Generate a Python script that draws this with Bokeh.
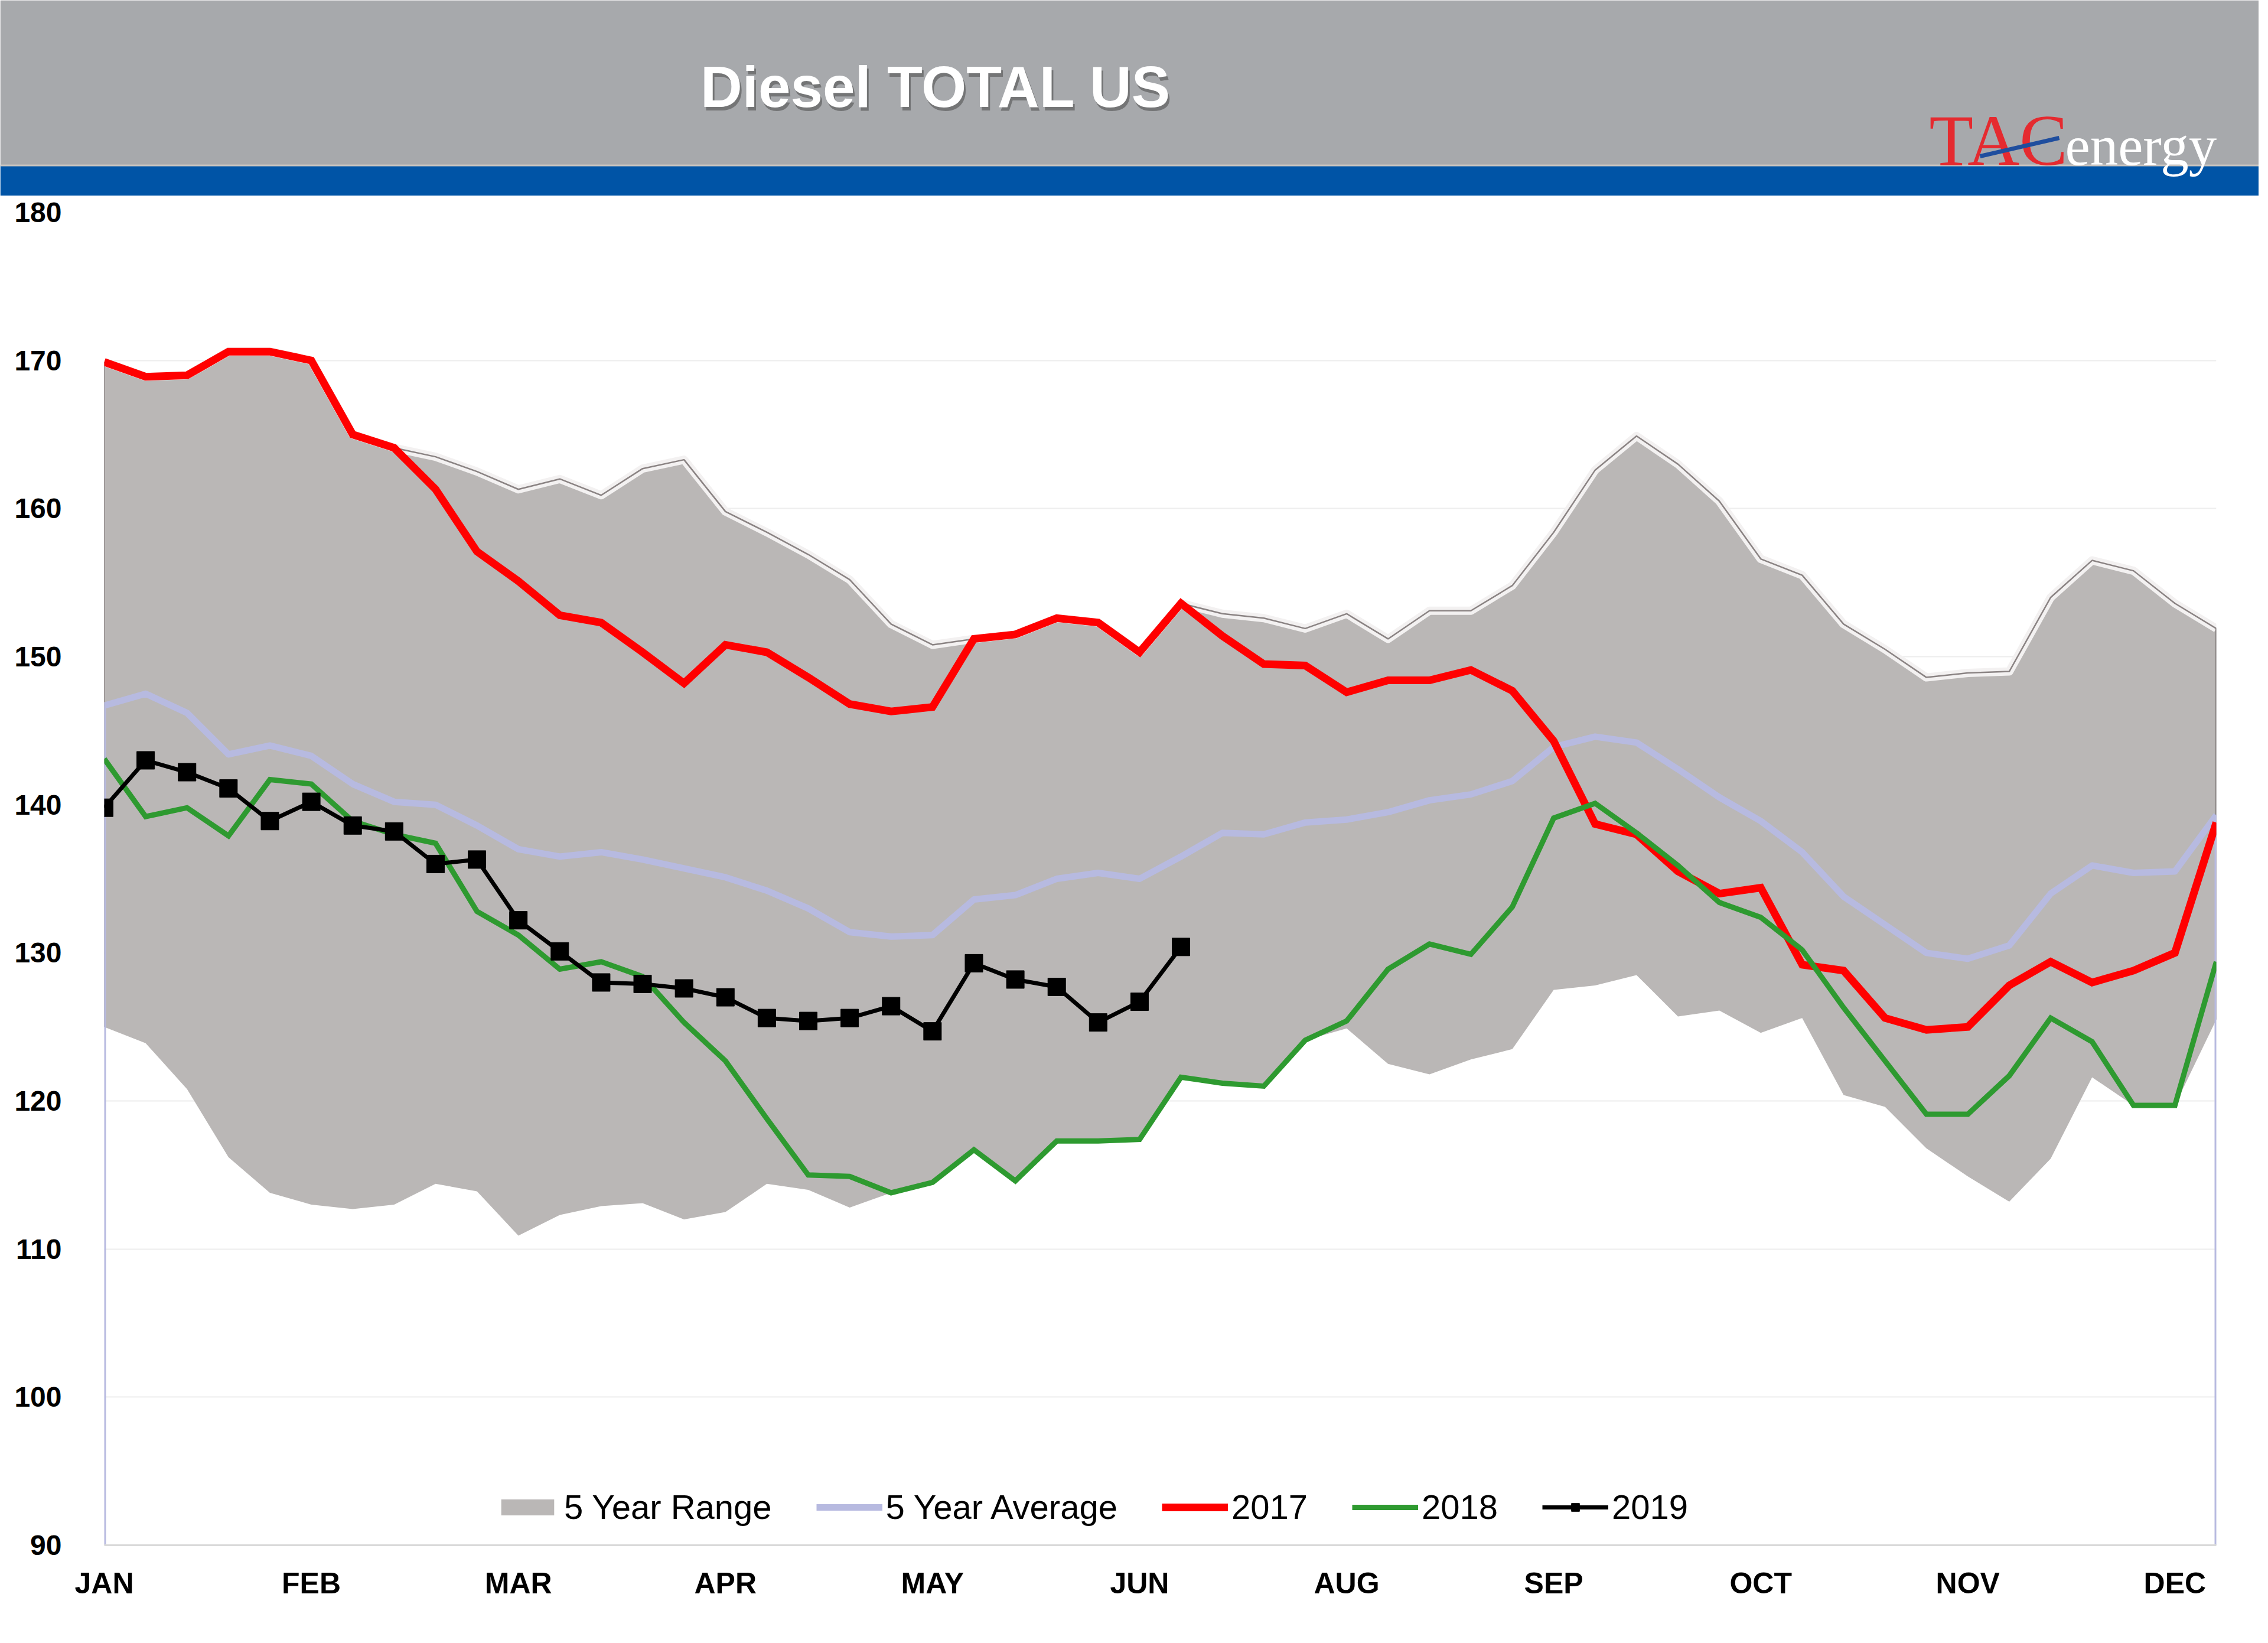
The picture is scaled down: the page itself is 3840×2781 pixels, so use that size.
from bokeh.plotting import figure
from bokeh.models import Range1d, FixedTicker, Legend, LegendItem
from bokeh.layouts import column
from bokeh.embed import file_html
from bokeh.resources import INLINE
from bokeh.core.properties import value

# ---------------- data ----------------
title = "Diesel TOTAL US"
months = ["JAN", "FEB", "MAR", "APR", "MAY", "JUN", "AUG", "SEP", "OCT", "NOV", "DEC"]
month_weeks = [0, 5, 10, 15, 20, 25, 30, 35, 40, 45, 50]
y_ticks = [90, 100, 110, 120, 130, 140, 150, 160, 170, 180]
weeks = list(range(52))

range_max = [169.9, 168.9, 169.0, 170.6, 170.6, 170.0, 165.0, 164.1, 163.5, 162.5,
             161.3, 162.0, 160.9, 162.7, 163.3, 159.8, 158.4, 156.9, 155.2, 152.2,
             150.8, 151.2, 151.5, 152.6, 152.3, 150.3, 153.6, 152.9, 152.6, 151.9,
             152.9, 151.2, 153.1, 153.1, 154.8, 158.4, 162.6, 164.9, 163.0, 160.5,
             156.6, 155.5, 152.2, 150.5, 148.6, 148.9, 149.0, 154.0, 156.5, 155.8,
             153.6, 151.9]
range_min = [125.0, 123.9, 120.8, 116.2, 113.8, 113.0, 112.7, 113.0, 114.4, 113.9,
             110.9, 112.3, 112.9, 113.1, 112.0, 112.5, 114.4, 114.0, 112.8, 113.8,
             114.5, 116.7, 114.6, 117.3, 117.3, 117.4, 121.6, 121.2, 121.0, 124.1,
             124.9, 122.5, 121.8, 122.8, 123.5, 127.5, 127.8, 128.5, 125.7, 126.1,
             124.6, 125.6, 120.4, 119.6, 116.8, 114.9, 113.2, 116.1, 121.6, 119.7,
             119.7, 125.5]
avg5 = [146.7, 147.5, 146.2, 143.4, 144.0, 143.3, 141.4, 140.2, 140.0, 138.6,
        137.0, 136.5, 136.8, 136.3, 135.7, 135.1, 134.2, 133.0, 131.4, 131.1,
        131.2, 133.6, 133.9, 135.0, 135.4, 135.0, 136.5, 138.1, 138.0, 138.8,
        139.0, 139.5, 140.3, 140.7, 141.6, 143.9, 144.6, 144.2, 142.4, 140.5,
        138.9, 136.8, 133.8, 131.9, 130.0, 129.6, 130.5, 134.0, 135.9, 135.4,
        135.5, 139.3]
y2017 = [169.9, 168.9, 169.0, 170.6, 170.6, 170.0, 165.0, 164.1, 161.3, 157.1,
         155.1, 152.8, 152.3, 150.3, 148.2, 150.8, 150.3, 148.6, 146.8, 146.3,
         146.6, 151.2, 151.5, 152.6, 152.3, 150.3, 153.6, 151.4, 149.5, 149.4,
         147.6, 148.4, 148.4, 149.1, 147.7, 144.3, 138.7, 138.0, 135.5, 134.0,
         134.4, 129.2, 128.8, 125.6, 124.8, 125.0, 127.8, 129.4, 128.0, 128.8,
         130.0, 138.8]
y2018 = [143.1, 139.2, 139.8, 137.9, 141.7, 141.4, 138.9, 138.0, 137.4, 132.8,
         131.2, 128.9, 129.4, 128.4, 125.3, 122.7, 118.8, 115.0, 114.9, 113.8,
         114.5, 116.7, 114.6, 117.3, 117.3, 117.4, 121.6, 121.2, 121.0, 124.1,
         125.4, 128.9, 130.6, 129.9, 133.1, 139.1, 140.1, 138.1, 135.9, 133.4,
         132.4, 130.2, 126.3, 122.7, 119.1, 119.1, 121.7, 125.6, 124.0, 119.7,
         119.7, 129.4]
y2019 = [139.8, 143.0, 142.2, 141.1, 138.9, 140.2, 138.6, 138.2, 136.0, 136.3,
         132.2, 130.1, 128.0, 127.9, 127.6, 127.0, 125.6, 125.4, 125.6, 126.4,
         124.7, 129.3, 128.2, 127.7, 125.3, 126.7, 130.4]
weeks2019 = weeks[:len(y2019)]

# ---------------- sizes ----------------
W = 3824
HEAD_H = 331
MAIN_H = 2765 - HEAD_H
BAND = 52
FONT_NAME = "Liberation Sans"
FONT = value(FONT_NAME)

# ---------------- header ----------------
head = figure(width=W, height=HEAD_H, x_range=Range1d(0, W), y_range=Range1d(0, HEAD_H),
              toolbar_location=None, output_backend="svg",
              x_axis_location=None, y_axis_location=None, min_border=0)
head.frame_align = False
head.grid.visible = False
head.outline_line_color = None
head.background_fill_color = "white"
head.quad(left=[0], right=[W], bottom=[BAND], top=[HEAD_H], fill_color="#A7A9AC", line_color=None)
head.quad(left=[0], right=[W], bottom=[0], top=[BAND], fill_color="#0054A6", line_color=None)
head.quad(left=[0], right=[W], bottom=[BAND - 2], top=[BAND + 1], fill_color="#C8C3BF", line_color=None)
# title with shadow
head.text(x=[1587], y=[179], text=[title], text_color="#4A4A4A", text_alpha=0.55,
          text_font=FONT, text_font_style="bold", text_font_size="98px",
          text_align="center", text_baseline="middle")
head.text(x=[1584], y=[185], text=[title], text_color="white",
          text_font=FONT, text_font_style="bold", text_font_size="98px",
          text_align="center", text_baseline="middle")
# logo
head.text(x=[3266], y=[94], text=["TAC"], text_color="#E52A2F",
          text_font=value("Liberation Serif"), text_font_size="122px",
          text_align="left", text_baseline="middle")
head.text(x=[3496], y=[85], text=["energy"], text_color="white",
          text_font=value("Liberation Serif"), text_font_size="95px",
          text_align="left", text_baseline="middle")
head.line(x=[3352, 3486], y=[67, 98], line_color="#1F4E9E", line_width=7)

# ---------------- main chart ----------------
p = figure(width=W, height=MAIN_H, x_range=Range1d(0, 51), y_range=Range1d(90, 180),
           toolbar_location=None, output_backend="svg",
           min_border_left=176, min_border_right=72, min_border_top=28, min_border_bottom=150)
p.frame_align = False
p.outline_line_color = None
p.background_fill_color = "white"
p.xgrid.visible = False
p.ygrid.ticker = FixedTicker(ticks=y_ticks)
p.ygrid.grid_line_color = "#EDEDED"
p.ygrid.grid_line_width = 2

rng = p.varea(x=weeks, y1=range_min, y2=range_max, fill_color="#BAB7B6")
p.line(weeks, range_max, line_color="#F3F1F1", line_width=14, line_join="round")
p.line(weeks, range_max, line_color="#8A8383", line_width=2.5)
p.segment(x0=[weeks[0], weeks[-1]], x1=[weeks[0], weeks[-1]],
          y0=[range_min[0], range_min[-1]], y1=[range_max[0], range_max[-1]],
          line_color="#7F7878", line_width=3)

avg_r = p.line(weeks, avg5, line_color="#B7BAE0", line_width=11, line_join="round")
p.segment(x0=[weeks[0], weeks[-1]], x1=[weeks[0], weeks[-1]],
          y0=[avg5[0], avg5[-1]], y1=[p.y_range.start, p.y_range.start],
          line_color="#B7BAE0", line_width=6)

r17 = p.line(weeks, y2017, line_color="#FF0000", line_width=13, line_join="miter")
r18 = p.line(weeks, y2018, line_color="#2E9A30", line_width=9, line_join="miter")
r19 = p.line(weeks2019, y2019, line_color="black", line_width=7, line_join="miter")
s19 = p.scatter(weeks2019, y2019, marker="square", size=30, fill_color="black", line_color="black")

# axes
p.yaxis.ticker = FixedTicker(ticks=y_ticks)
p.yaxis.axis_line_color = None
p.yaxis.major_tick_line_color = None
p.yaxis.major_tick_out = 0
p.yaxis.minor_tick_line_color = None
p.yaxis.major_label_text_font = FONT_NAME
p.yaxis.major_label_text_font_style = "bold"
p.yaxis.major_label_text_font_size = "48px"
p.yaxis.major_label_text_color = "black"
p.yaxis.major_label_standoff = 72

p.xaxis.ticker = FixedTicker(ticks=month_weeks)
p.xaxis.major_label_overrides = {w: m for w, m in zip(month_weeks, months)}
p.xaxis.axis_line_color = "#D9D9D9"
p.xaxis.axis_line_width = 3
p.xaxis.major_tick_line_color = None
p.xaxis.minor_tick_line_color = None
p.xaxis.major_label_text_font = FONT_NAME
p.xaxis.major_label_text_font_style = "bold"
p.xaxis.major_label_text_font_size = "50px"
p.xaxis.major_label_text_color = "black"
p.xaxis.major_label_standoff = 30

legend = Legend(items=[
    LegendItem(label="5 Year Range", renderers=[rng]),
    LegendItem(label="5 Year Average", renderers=[avg_r]),
    LegendItem(label="2017", renderers=[r17]),
    LegendItem(label="2018", renderers=[r18]),
    LegendItem(label="2019", renderers=[r19, s19]),
], orientation="horizontal", location=(661, 31))
legend.glyph_width = 112
legend.glyph_height = 34
legend.label_standoff = 6
legend.spacing = 75
legend.padding = 0
legend.margin = 0
legend.border_line_color = None
legend.background_fill_alpha = 0
legend.label_text_font = FONT_NAME
legend.label_text_font_size = "58px"
legend.label_text_color = "black"
legend.label_height = 58
p.add_layout(legend)

layout = column(head, p, spacing=0)
open("out.html", "w").write(file_html(layout, INLINE))
